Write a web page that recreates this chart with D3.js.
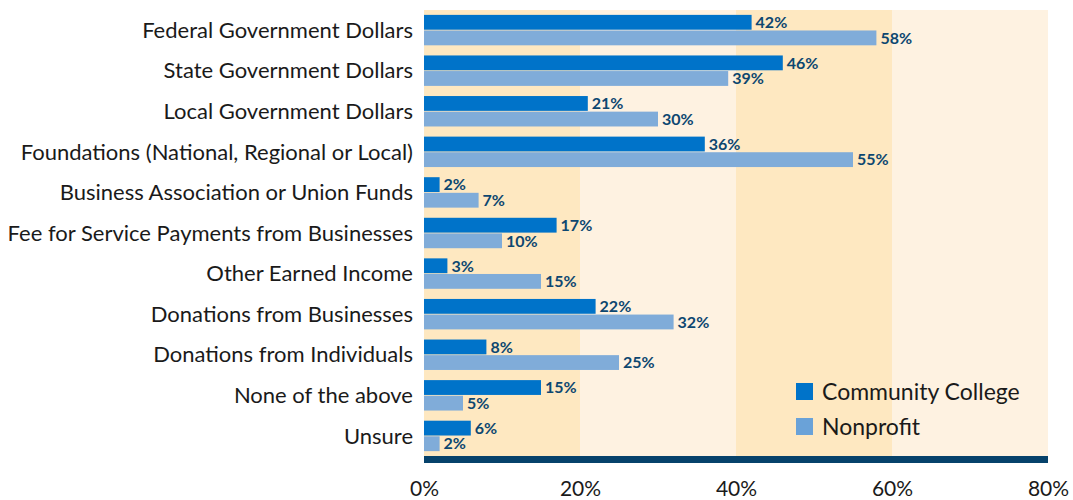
<!DOCTYPE html>
<html>
<head>
<meta charset="utf-8">
<script src="https://cdn.jsdelivr.net/npm/d3@7"></script>
<style>
  body { margin: 0; background: #fff; }
  svg { display: block; font-family: Lato, "Open Sans", sans-serif; }
</style>
</head>
<body>
<svg id="chart" width="1073" height="500"></svg>
<script>
// data
var categories = [
  "Federal Government Dollars",
  "State Government Dollars",
  "Local Government Dollars",
  "Foundations (National, Regional or Local)",
  "Business Association or Union Funds",
  "Fee for Service Payments from Businesses",
  "Other Earned Income",
  "Donations from Businesses",
  "Donations from Individuals",
  "None of the above",
  "Unsure"
];
var communityCollege = [42, 46, 21, 36, 2, 17, 3, 22, 8, 15, 6];
var nonprofit        = [58, 39, 30, 55, 7, 10, 15, 32, 25, 5, 2];
var seriesNames = ["Community College", "Nonprofit"];
var tickValues = [0, 20, 40, 60, 80];

var colors = { cc: "#0073c9", np: "#80acd9", label: "#0d4770", navy: "#06426b",
               bandDark: "#fee8c1", bandLight: "#fef2e1" };

var svg = d3.select("#chart");
var plotLeft = 424, plotRight = 1048, plotTop = 10, plotBottom = 456;

var x = d3.scaleLinear().domain([0, 80]).range([plotLeft, plotRight]);
var y = d3.scaleBand().domain(categories).range([plotTop, plotBottom]).paddingInner(0.25).paddingOuter(0.12);
var sub = d3.scaleBand().domain(["cc", "np"]).range([0, y.bandwidth()]).paddingInner(0.05);

// background bands
svg.append("g").selectAll("rect")
  .data(d3.pairs(tickValues))
  .join("rect")
    .attr("x", function(d) { return x(d[0]); })
    .attr("y", plotTop)
    .attr("width", function(d) { return x(d[1]) - x(d[0]); })
    .attr("height", plotBottom - plotTop)
    .attr("fill", function(d, i) { return i % 2 === 0 ? colors.bandDark : colors.bandLight; });

// baseline bar
svg.append("rect")
  .attr("x", x(0)).attr("y", plotBottom)
  .attr("width", x(80) - x(0)).attr("height", 7)
  .attr("fill", colors.navy);

var rows = categories.map(function(c, i) {
  return { cat: c, cc: communityCollege[i], np: nonprofit[i] };
});

var groups = svg.append("g").selectAll("g")
  .data(rows)
  .join("g")
    .attr("transform", function(d) { return "translate(0," + y(d.cat) + ")"; });

["cc", "np"].forEach(function(key) {
  groups.append("rect")
    .attr("x", x(0))
    .attr("y", sub(key))
    .attr("width", function(d) { return x(d[key]) - x(0); })
    .attr("height", sub.bandwidth())
    .attr("fill", colors[key]);
  groups.append("text")
    .attr("x", function(d) { return x(d[key]) + 4; })
    .attr("y", sub(key) + sub.bandwidth() / 2)
    .attr("dy", "0.36em")
    .attr("fill", colors.label)
    .attr("font-size", 16)
    .attr("font-weight", "bold")
    .text(function(d) { return d[key] + "%"; });
});

// category labels
svg.append("g").selectAll("text")
  .data(categories)
  .join("text")
    .attr("x", 413)
    .attr("y", function(d) { return y(d) + y.bandwidth() / 2; })
    .attr("dy", "0.35em")
    .attr("text-anchor", "end")
    .attr("font-size", 22)
    .attr("fill", "#1a1a1a")
    .text(function(d) { return d; });

// x axis labels
var axis = d3.axisBottom(x).tickValues(tickValues).tickSize(0).tickPadding(0)
  .tickFormat(function(d) { return d + "%"; });
var ax = svg.append("g").attr("transform", "translate(0,481)").call(axis);
ax.select(".domain").remove();
ax.selectAll("text").attr("font-size", 21).attr("fill", "#1a1a1a")
  .attr("font-family", "Lato, sans-serif").attr("dy", "0.71em");

// legend
var legend = svg.append("g").attr("transform", "translate(796,383)");
seriesNames.forEach(function(name, i) {
  var g = legend.append("g").attr("transform", "translate(0," + i * 35 + ")");
  g.append("rect").attr("width", 17).attr("height", 17)
    .attr("fill", i === 0 ? colors.cc : "#6aa2d8");
  g.append("text").attr("x", 26).attr("y", 9).attr("dy", "0.35em")
    .attr("font-size", 23).attr("fill", "#1a1a1a").text(name);
});
</script>
</body>
</html>
